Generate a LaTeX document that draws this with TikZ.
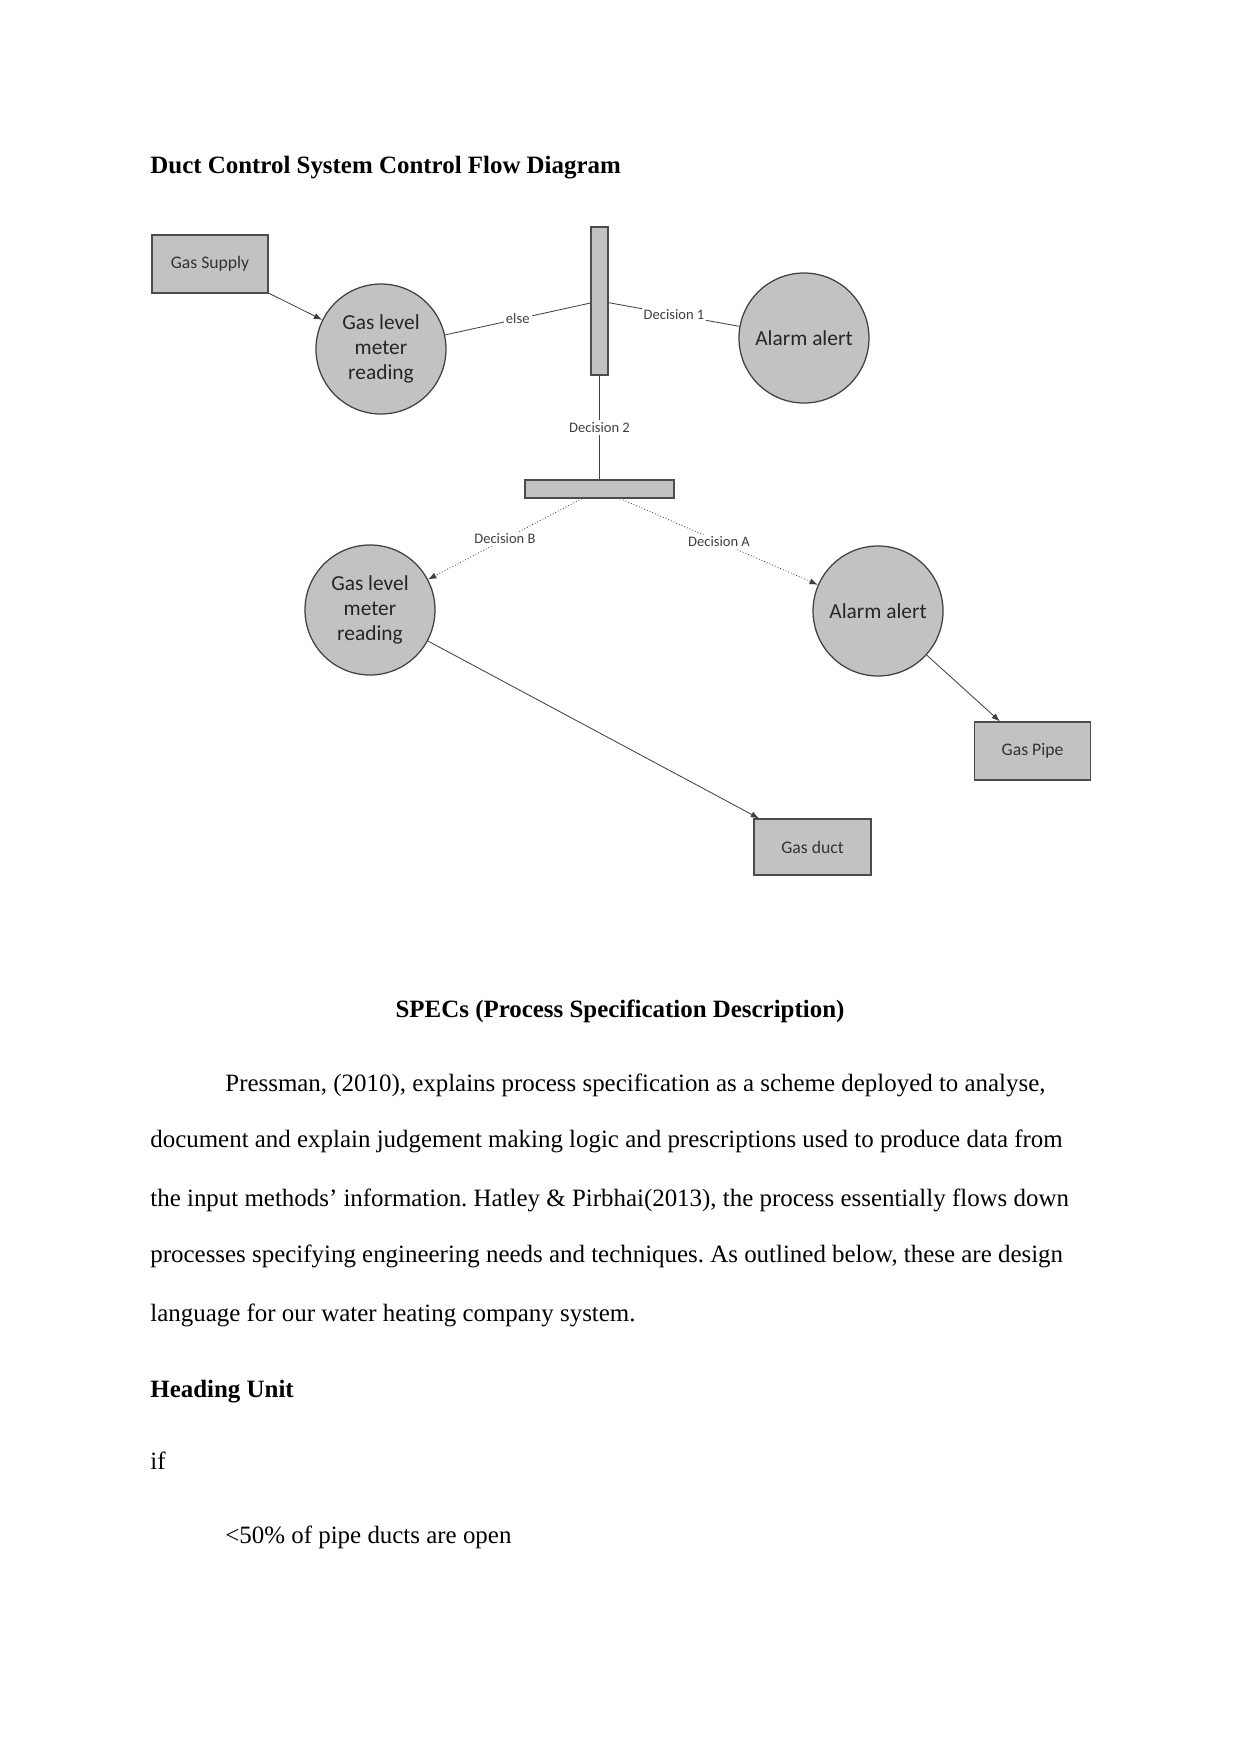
\documentclass[tikz,border=0pt]{standalone}
\usepackage{fontspec}
\setmainfont{Liberation Serif}
\newfontfamily\diafont{Carlito}
\usetikzlibrary{arrows.meta}
\frenchspacing

\begin{document}
\begin{tikzpicture}[
  box/.style={draw=black!70, line width=0.6pt, fill=black!24, minimum width=1.963cm, minimum height=0.981cm, inner sep=0pt, font=\diafont\fontsize{8.5}{10}\selectfont, text=black!80},
  bubble/.style={circle, draw=black!75, line width=0.6pt, fill=black!24, minimum size=2.2cm, inner sep=0pt, align=center, font=\diafont\fontsize{10.3}{12}\selectfont, text=black!85},
  bar/.style={draw=black!70, line width=0.6pt, fill=black!24, inner sep=0pt},
  flow/.style={line width=0.4pt, black!75},
  flowarr/.style={flow, -{Latex[length=4pt,width=3pt]}},
  tag/.style={font=\diafont\fontsize{7}{8}\selectfont, fill=white, inner sep=1pt, text=black!75},
  body/.style={anchor=base west, inner sep=0pt, font=\fontsize{12}{14}\selectfont},
  head/.style={body, font=\bfseries\fontsize{12}{14}\selectfont},
]
\useasboundingbox (0,0) rectangle (21.000,-29.681);

% page text above the diagram
\node[head] (title) at (2.538,-2.928) {Duct Control System Control Flow Diagram};

% diagram
\node[box] (supply) at (3.554,-4.467) {Gas Supply};
\node[bubble] (gm1) at (6.447,-5.906) {Gas level\\meter\\reading};
\node[bar, minimum width=0.288cm, minimum height=2.504cm] (vbar) at (10.145,-5.094) {};
\node[bubble] (alarm1) at (13.605,-5.720) {Alarm alert};
\node[bar, minimum width=2.521cm, minimum height=0.305cm] (hbar) at (10.145,-8.275) {};
\node[bubble] (gm2) at (6.261,-10.322) {Gas level\\meter\\reading};
\node[bubble] (alarm2) at (14.858,-10.339) {Alarm alert};
\node[box] (pipe) at (17.472,-12.708) {Gas Pipe};
\node[box, minimum width=1.980cm, minimum height=0.948cm] (duct) at (13.749,-14.333) {Gas duct};

\draw[flowarr] (supply) -- (gm1);
\draw[flow] (gm1) -- node[tag] {else} (vbar);
\draw[flow] (vbar) -- node[tag] {Decision 1} (alarm1);
\draw[flow] (vbar) -- node[tag] {Decision 2} (hbar);
\draw[flowarr, densely dotted] ([xshift=-0.3cm]hbar.south) -- node[tag] {Decision B} (gm2);
\draw[flowarr, densely dotted] ([xshift=0.35cm]hbar.south) -- node[tag] {Decision A} (alarm2);
\draw[flowarr] (gm2) -- (duct);
\draw[flowarr] (alarm2) -- (pipe);

% page text below the diagram
\node[head, anchor=base] (specs) at (10.492,-17.210) {SPECs (Process Specification Description)};
\node[body] (line1) at (3.807,-18.462) {Pressman, (2010), explains process specification as a scheme deployed to analyse,};
\node[body] (line2) at (2.538,-19.426) {document and explain judgement making logic and prescriptions used to produce data from};
\node[body] (line3) at (2.538,-20.408) {the input methods’ information. Hatley \& Pirbhai(2013), the process essentially flows down};
\node[body] (line4) at (2.538,-21.372) {processes specifying engineering needs and techniques. As outlined below, these are design};
\node[body] (line5) at (2.538,-22.354) {language for our water heating company system.};
\node[head] (heading) at (2.538,-23.640) {Heading Unit};
\node[body] (iftext) at (2.538,-24.858) {if};
\node[body] (cond) at (3.807,-26.111) {<50\% of pipe ducts are open};
\end{tikzpicture}
\end{document}
